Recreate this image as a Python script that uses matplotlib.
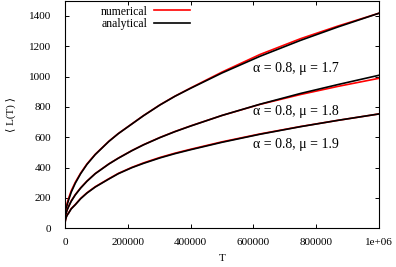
import numpy as np
import matplotlib
matplotlib.use("Agg")
import matplotlib.pyplot as plt

plt.rcParams['font.family'] = ['Liberation Serif', 'DejaVu Serif']

# values
T = [1000, 2000, 4000, 7000, 11700, 20000, 32900, 50000, 70000, 96500,
     140000, 170000, 213400, 250000, 302500, 350000, 400000, 500000,
     621000, 750000, 870000, 1000000]

ana_17 = [70, 93, 125, 154, 187, 238, 297, 360, 421, 486,
          573, 624, 688, 742, 813, 870, 923, 1024,
          1134, 1239, 1328, 1418]
num_17 = [80, 106, 138, 166, 198, 247, 303, 364, 424, 488,
          574, 625, 689, 743, 814, 871, 925, 1030,
          1146, 1250, 1334, 1418]

ana_18 = [60, 78, 100, 120, 142, 178, 220, 265, 310, 360,
          424, 462, 512, 550, 598, 637, 674, 744,
          818, 889, 948, 1009]
num_18 = [62, 81, 104, 124, 146, 181, 222, 267, 311, 361,
          425, 463, 513, 551, 599, 638, 675, 744,
          817, 882, 936, 989]

ana_19 = [45, 57, 72, 86, 100, 128, 155, 195, 232, 272,
          325, 360, 400, 428, 464, 492, 518, 567,
          620, 670, 712, 754]
num_19 = [46, 58, 74, 88, 102, 130, 157, 197, 234, 274,
          327, 362, 402, 431, 467, 495, 521, 570,
          622, 671, 712, 754]

labels = ["α = 0.8, μ = 1.7",
          "α = 0.8, μ = 1.8",
          "α = 0.8, μ = 1.9"]
label_y = [1056, 767, 550]

xticks = [0, 200000, 400000, 600000, 800000, 1000000]
xticklabels = ["0", "200000", "400000", "600000", "800000", "1e+06"]
yticks = [0, 200, 400, 600, 800, 1000, 1200, 1400]

fig = plt.figure(figsize=(3.96, 2.67), dpi=100)
ax = fig.add_axes([0.164, 0.145, 0.793, 0.852])

red = '#ff0000'
ax.plot(T, num_17, color=red, lw=1.2, label='numerical')
ax.plot(T, ana_17, color='black', lw=1.2, label='analytical')
ax.plot(T, num_18, color=red, lw=1.2)
ax.plot(T, ana_18, color='black', lw=1.2)
ax.plot(T, num_19, color=red, lw=1.2)
ax.plot(T, ana_19, color='black', lw=1.2)

for lab, yy in zip(labels, label_y):
    ax.text(598000, yy, lab, fontsize=10, va='center', ha='left')

ax.set_xlim(0, 1000000)
ax.set_ylim(0, 1500)
ax.set_xticks(xticks)
ax.set_xticklabels(xticklabels)
ax.set_yticks(yticks)
ax.tick_params(direction='in', top=True, right=True, length=3, width=0.7,
               labelsize=8)
ax.tick_params(axis='y', pad=10)
ax.tick_params(axis='x', pad=7)
for s in ax.spines.values():
    s.set_linewidth(0.8)

ax.set_xlabel('T', fontsize=8, labelpad=5)
ax.set_ylabel('⟨ L(T) ⟩', fontsize=8, labelpad=9)

leg = ax.legend(loc='upper left', bbox_to_anchor=(0.09, 1.01), frameon=False,
                markerfirst=False, fontsize=8.5, handlelength=3.0,
                handletextpad=0.6, labelspacing=0.05, borderaxespad=0.2)
for t in leg.get_texts():
    t.set_ha('right')

fig.savefig('out.png', dpi=100)
